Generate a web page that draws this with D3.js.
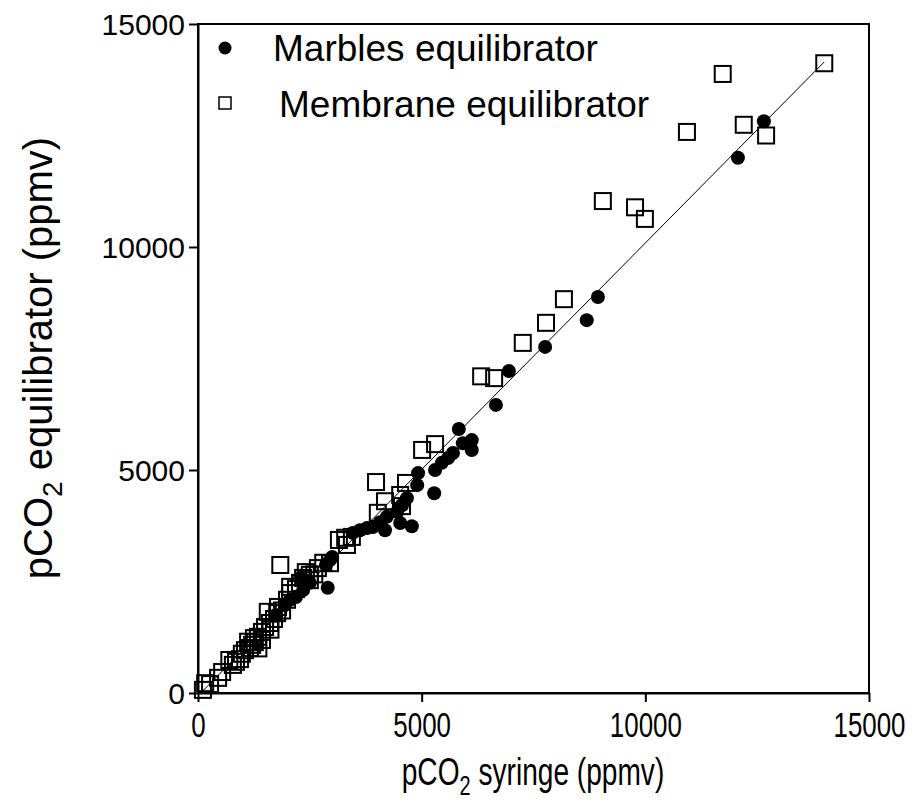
<!DOCTYPE html>
<html><head><meta charset="utf-8">
<script src="https://cdn.jsdelivr.net/npm/d3@7"></script>
<style>body{margin:0;background:#fff;} text{font-family:"Liberation Sans",Arial,sans-serif;}</style>
</head><body><svg id="c" width="919" height="810"></svg>
<script>
const xTicks = [0, 5000, 10000, 15000];
const yTicks = [0, 5000, 10000, 15000];
const seriesNames = ["Marbles equilibrator", "Membrane equilibrator"];
const marblesX = [12650,12070,8940,8690,7760,6950,6660,5830,6120,5920,6120,5700,5590,5450,5300,4920,4900,5280,4670,4560,4450,4220,4070,3910,4180,3780,4520,4780,3620,3460,3000,2950,2860,2900,2500,2350,2190,2060,1940,1740,2280];
const marblesY = [12820,12000,8880,8360,7760,7220,6460,5920,5670,5600,5450,5380,5270,5160,5000,4930,4660,4480,4370,4210,4060,3950,3830,3720,3650,3700,3810,3740,3650,3590,3050,2980,2870,2360,2470,2310,2150,2090,1970,1750,2580];
const membraneX = [14000,11730,12200,12700,10930,9050,9770,9990,8180,7780,7260,6330,6620,5010,5300,3980,4650,4180,4520,4020,4560,3440,3330,1840,2800,2680,2500,2410,2280,2190,2060,1990,1790,1770,1700,1610,1500,1430,1340,1270,1210,1160,940,850,780,540,450,160,270,110,1560,1430,1050,2060,2500,3150,3290,2950,1350,1250,1620,1880,2350,2600,700,980,1120];
const membraneY = [14120,13880,12740,12500,12580,11030,10890,10630,8830,8300,7850,7100,7060,5450,5580,4730,4710,4300,4440,4040,4190,3500,3320,2870,2920,2800,2650,2710,2470,2330,2240,2090,1930,1790,1660,1570,1480,1370,1260,1140,1080,1010,760,700,630,470,340,220,200,70,1820,1190,960,2380,2530,3430,3480,2910,1000,1230,1420,1850,2580,2660,740,880,1150];
const fitX = [100, 14000];
const fitY = [40, 14150];

const svg = d3.select("#c");
const x = d3.scaleLinear().domain([0,15000]).range([198,869]);
const y = d3.scaleLinear().domain([0,15000]).range([693,24]);

// frame
svg.append("rect").attr("x",198).attr("y",24).attr("width",671).attr("height",669)
  .attr("fill","none").attr("stroke","#000").attr("stroke-width",2);

const xa = svg.append("g").attr("transform","translate(0,693)")
  .call(d3.axisBottom(x).tickValues(xTicks).tickSize(9).tickSizeOuter(0).tickFormat(d3.format("d")));
const ya = svg.append("g").attr("transform","translate(198,0)")
  .call(d3.axisLeft(y).tickValues(yTicks).tickSize(9).tickSizeOuter(0).tickFormat(d3.format("d")));
[xa,ya].forEach(a=>{
  a.select(".domain").attr("stroke-width",2);
  a.selectAll(".tick line").attr("stroke-width",2);
  a.selectAll(".tick text").attr("font-family","Liberation Sans, Arial, sans-serif").attr("fill","#000");
});
xa.selectAll(".tick text").attr("font-size",36).attr("y",0).attr("dy",0)
  .attr("transform","translate(0,44) scale(0.72,1)");
ya.selectAll(".tick text").attr("font-size",30).attr("x",-13).attr("dy","0.36em");

// fit line
svg.append("line").attr("x1",x(fitX[0])).attr("y1",y(fitY[0])).attr("x2",x(fitX[1])).attr("y2",y(fitY[1]))
  .attr("stroke","#000").attr("stroke-width",1);

// membrane squares
const s = 16;
svg.append("g").selectAll("rect").data(membraneX.map((d,i)=>[d,membraneY[i]])).join("rect")
  .attr("x",d=>x(d[0])-s/2).attr("y",d=>y(d[1])-s/2).attr("width",s).attr("height",s)
  .attr("fill","none").attr("stroke","#000").attr("stroke-width",2);

// marbles circles
svg.append("g").selectAll("circle").data(marblesX.map((d,i)=>[d,marblesY[i]])).join("circle")
  .attr("cx",d=>x(d[0])).attr("cy",d=>y(d[1])).attr("r",7).attr("fill","#000");

// legend
svg.append("circle").attr("cx",225).attr("cy",48).attr("r",6.5).attr("fill","#000");
svg.append("text").attr("x",273).attr("y",61).attr("font-size",37).text(seriesNames[0]);
svg.append("rect").attr("x",219).attr("y",97).attr("width",12).attr("height",12).attr("fill","none").attr("stroke","#000").attr("stroke-width",1.5);
svg.append("text").attr("x",279).attr("y",117).attr("font-size",37).text(seriesNames[1]);

// axis titles
const xt = svg.append("text").attr("transform","translate(533,785) scale(0.74,1)").attr("text-anchor","middle").attr("font-size",38);
xt.append("tspan").text("pCO");
xt.append("tspan").attr("font-size",27).attr("dy",10).text("2");
xt.append("tspan").attr("dy",-10).text(" syringe (ppmv)");
const yt = svg.append("text").attr("transform","translate(52,358) rotate(-90)").attr("text-anchor","middle").attr("font-size",40);
yt.append("tspan").text("pCO");
yt.append("tspan").attr("font-size",28).attr("dy",10).text("2");
yt.append("tspan").attr("dy",-10).text(" equilibrator (ppmv)");
</script></body></html>
